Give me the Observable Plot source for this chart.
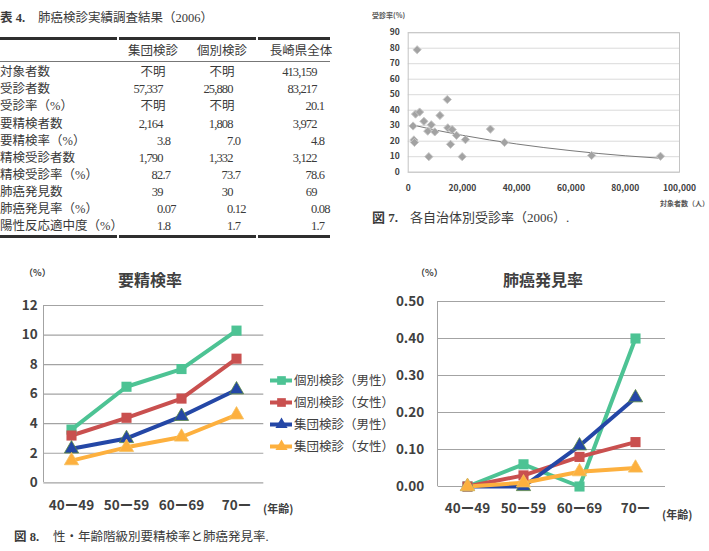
<!DOCTYPE html>
<html><head><meta charset="utf-8">
<script src="https://cdn.jsdelivr.net/npm/d3@7"></script>
<script src="https://cdn.jsdelivr.net/npm/@observablehq/plot@0.6"></script>
<style>
body{margin:0;background:#fff;}
#root{position:relative;width:709px;height:551px;overflow:hidden;background:#fff;}
.abs{position:absolute;}
</style></head>
<body><div id="root"></div>
<script>
// ---------- DATA ----------
// Table 4
const tableTitle = "肺癌検診実績調査結果（2006）";
const colHeaders = ["集団検診", "個別検診", "長崎県全体"];
const rowLabels = ["対象者数", "受診者数", "受診率（%）", "要精検者数", "要精検率（%）", "精検受診者数", "精検受診率（%）", "肺癌発見数", "肺癌発見率（%）", "陽性反応適中度（%）"];
const colGroup = ["不明", "57,337", "不明", "2,164", "3.8", "1,790", "82.7", "39", "0.07", "1.8"];
const colIndividual = ["不明", "25,880", "不明", "1,808", "7.0", "1,332", "73.7", "30", "0.12", "1.7"];
const colNagasaki = ["413,159", "83,217", "20.1", "3,972", "4.8", "3,122", "78.6", "69", "0.08", "1.7"];

// Fig 7 scatter
const targetPop = [3300, 2700, 4200, 11700, 14400, 5800, 8500, 1800, 7200, 9800, 14600, 16200, 17800, 21100, 15600, 2100, 2300, 7600, 19900, 30300, 35500, 67600, 93000];
const examRate  = [79, 37.5, 38.8, 36.6, 46.9, 32.8, 30.6, 29.8, 26.5, 26, 28.6, 27.5, 23.8, 21, 18, 20.8, 19.2, 10, 10, 27.8, 19.2, 10.8, 10.3];
const trendX = [1500, 10000, 20000, 30000, 40000, 50000, 60000, 70000, 80000, 93000];
const trendY = [30.5, 27.2, 23.8, 20.8, 18.2, 15.9, 13.9, 12.1, 10.6, 9.0];
const scatterYTicks = [0, 10, 20, 30, 40, 50, 60, 70, 80, 90];
const scatterXTicks = [0, 20000, 40000, 60000, 80000, 100000];

// Fig 8
const ages = ["40ー49", "50ー59", "60ー69", "70ー"];
const seriesNames = ["個別検診（男性）", "個別検診（女性）", "集団検診（男性）", "集団検診（女性）"];
const recallKobetsuM = [3.6, 6.5, 7.7, 10.3];
const recallKobetsuF = [3.2, 4.4, 5.7, 8.4];
const recallShudanM  = [2.3, 3.0, 4.5, 6.3];
const recallShudanF  = [1.5, 2.4, 3.1, 4.6];
const detectKobetsuM = [0.00, 0.06, 0.00, 0.40];
const detectKobetsuF = [0.00, 0.03, 0.08, 0.12];
const detectShudanM  = [0.00, 0.00, 0.11, 0.24];
const detectShudanF  = [0.00, 0.01, 0.04, 0.05];
const recallTicks = [0, 2, 4, 6, 8, 10, 12];
const detectTicks = [0, 0.1, 0.2, 0.3, 0.4, 0.5];

// ---------- STYLE ----------
const serifFam = "'Liberation Serif','Noto Sans CJK JP',serif";
const sansFam = "'Noto Sans CJK JP','Open Sans',sans-serif";
const seriesColors = ["#4dc394", "#c9504f", "#2447a6", "#fdb03e"];
const seriesSymbols = ["square", "square", "triangle", "triangle"];
const seriesR = [5.7, 5.7, 5.3, 5.3];

const root = document.getElementById("root");
function put(text, x, y, o = {}) {
  const d = document.createElement("div");
  d.className = "abs";
  d.textContent = text;
  const anchor = o.anchor || "start";
  const tx = anchor === "start" ? "0" : anchor === "middle" ? "-50%" : "-100%";
  Object.assign(d.style, {
    left: x + "px", top: y + "px", fontSize: (o.size || 12.5) + "px",
    fontWeight: o.weight || "normal", color: o.color || "#3a3a3a",
    fontFamily: o.family || serifFam, whiteSpace: "nowrap", lineHeight: "1",
    letterSpacing: o.ls || "normal",
    transform: `translate(${tx}, -50%)`
  });
  root.appendChild(d);
  return d;
}
function box(x, y, w, h, color) {
  const d = document.createElement("div");
  d.className = "abs";
  Object.assign(d.style, {left: x + "px", top: y + "px", width: w + "px", height: h + "px", background: color});
  root.appendChild(d);
}
function place(svg, x, y) {
  const w = document.createElement("div");
  w.className = "abs";
  w.style.left = x + "px"; w.style.top = y + "px";
  w.appendChild(svg);
  root.appendChild(w);
}

// ---------- TABLE 4 ----------
put("表 4.", 0, 18.3, {weight: "bold", size: 12.5});
put(tableTitle, 38, 18.3, {size: 12.5});
[[0, 117], [119, 256], [258, 330]].forEach(([a, b]) => { box(a, 36.5, b - a, 3, "#2e2e2e"); box(a, 234.5, b - a, 3, "#2e2e2e"); });
box(0, 60.5, 330, 1, "#777");
const headerCenters = [153, 222, 301];
colHeaders.forEach((h, i) => put(h, headerCenters[i], 50.7, {anchor: "middle", size: 12.5}));
const decX = [162.5, 232.5, 316.5];
const cols = [colGroup, colIndividual, colNagasaki];
rowLabels.forEach((lab, r) => {
  const y = 72.2 + r * 17.1;
  put(lab, 0, y, {size: 12.5});
  cols.forEach((col, c) => {
    const v = col[r];
    if (v === "不明") { put(v, headerCenters[c], y, {anchor: "middle", size: 12.5}); }
    else if (v.includes(".")) {
      const [ip, fp] = v.split(".");
      put(ip, decX[c], y, {anchor: "end", size: 12.5, ls: "-0.8px"});
      put("." + fp, decX[c], y, {size: 12.5, ls: "-0.8px"});
    } else {
      put(v, decX[c], y, {anchor: "end", size: 12.5, ls: "-0.9px"});
    }
  });
});

// ---------- FIG 7 SCATTER ----------
const scatterData = targetPop.map((x, i) => ({x, y: examRate[i]}));
const trendData = trendX.map((x, i) => ({x, y: trendY[i]}));
const sc = Plot.plot({
  width: 349, height: 180,
  marginLeft: 47.7, marginRight: 30, marginTop: 12.2, marginBottom: 28.3,
  style: {fontFamily: sansFam, fontSize: "8.5px", fontWeight: "bold", color: "#404040", background: "transparent", overflow: "visible"},
  x: {domain: [0, 100000], ticks: scatterXTicks, tickFormat: d3.format(","), tickSize: 0, tickPadding: 13, label: null},
  y: {domain: [0, 90], ticks: scatterYTicks, tickSize: 0, tickPadding: 8.5, label: null},
  marks: [
    Plot.ruleY(scatterYTicks, {stroke: "#dadada", strokeWidth: 1}),
    Plot.frame({stroke: "#c4c4c4"}),
    Plot.line(trendData, {x: "x", y: "y", stroke: "#7a7a7a", strokeWidth: 1}),
    Plot.dot(scatterData, {x: "x", y: "y", symbol: "diamond2", r: 3.7, fill: "#a2a2a2", stroke: "#c6c6c6", strokeWidth: 1})
  ]
});
place(sc, 360, 20);
put("受診率(%)", 372, 15, {size: 7, weight: "bold", family: sansFam, color: "#555"});
put("対象者数（人）", 660, 203, {size: 7, weight: "bold", family: sansFam, color: "#555"});
put("図 7.", 372, 216.7, {size: 13, weight: "bold"});
put("各自治体別受診率（2006）.", 410, 216.7, {size: 13});

// ---------- FIG 8 ----------
function lineChart(values, ticks, fmt, cfg) {
  const marks = [Plot.ruleY(ticks, {stroke: "#a3a3a3", strokeWidth: 1.2})];
  values.forEach((vals, i) => {
    const data = ages.map((a, j) => ({age: a, v: vals[j]}));
    marks.push(Plot.line(data, {x: "age", y: "v", stroke: seriesColors[i], strokeWidth: 4, strokeLinejoin: "round"}));
  });
  values.forEach((vals, i) => {
    const data = ages.map((a, j) => ({age: a, v: vals[j]}));
    marks.push(Plot.dot(data, {x: "age", y: "v", symbol: seriesSymbols[i], r: seriesR[i], fill: seriesColors[i], stroke: i >= 2 ? (i === 2 ? "#5d8a3c" : "#f5c060") : "none", strokeWidth: 0.8}));
  });
  return Plot.plot({
    width: cfg.width, height: cfg.height,
    marginLeft: cfg.ml, marginRight: cfg.mr, marginTop: cfg.mt, marginBottom: cfg.mb,
    style: {fontFamily: sansFam, fontSize: "13.5px", fontWeight: "bold", color: "#404040", background: "transparent", overflow: "visible"},
    x: {type: "point", domain: ages, padding: 0.5, tickSize: 0, tickPadding: cfg.xpad, label: null},
    y: {domain: [ticks[0], ticks[ticks.length - 1]], ticks, tickFormat: fmt, tickSize: 0, tickPadding: cfg.ypad, label: null},
    marks
  });
}
const c1 = {width: 270, height: 260, ml: 43.3, mr: 6.7, mt: 45, mb: 37.7, xpad: 18, ypad: 6};
place(lineChart([recallKobetsuM, recallKobetsuF, recallShudanM, recallShudanF], recallTicks, d3.format("d"), c1), 0, 260);
box(c1.ml - 0.6, 260 + c1.mt, 1.2, c1.height - c1.mt - c1.mb, "#a3a3a3");

const c2 = {width: 319, height: 260, ml: 47.7, mr: 44, mt: 41, mb: 34, xpad: 16.5, ypad: 14};
place(lineChart([detectKobetsuM, detectKobetsuF, detectShudanM, detectShudanF], detectTicks, d3.format(".2f"), c2), 390, 260);
box(390 + c2.ml - 0.6, 260 + c2.mt, 1.2, c2.height - c2.mt - c2.mb, "#a3a3a3");

// titles
put("（%）", 24, 272, {size: 9, weight: "bold", family: sansFam, color: "#404040"});
put("要精検率", 150, 279, {anchor: "middle", size: 16, weight: "bold", family: sansFam, color: "#404040"});
put("(年齢)", 263, 508, {size: 11, weight: "bold", family: sansFam, color: "#404040"});
put("（%）", 416, 272, {size: 9, weight: "bold", family: sansFam, color: "#404040"});
put("肺癌発見率", 543, 279, {anchor: "middle", size: 16, weight: "bold", family: sansFam, color: "#404040"});
put("(年齢)", 662, 514, {size: 11, weight: "bold", family: sansFam, color: "#404040"});

// legend
const legendData = seriesNames.map((name, i) => ({name, i}));
const legMarks = [];
legendData.forEach(d => {
  legMarks.push(Plot.ruleY([d], {y: "name", x1: 0, x2: 1, stroke: seriesColors[d.i], strokeWidth: 4}));
  legMarks.push(Plot.dot([d], {x: 0.5, y: "name", symbol: seriesSymbols[d.i], r: seriesR[d.i] - 0.8, fill: seriesColors[d.i]}));
});
legMarks.push(Plot.text(legendData, {x: 1, y: "name", text: "name", textAnchor: "start", dx: 1.5, fontSize: 12.5, fill: "#404040"}));
const leg = Plot.plot({
  width: 130, height: 95, marginLeft: 10, marginRight: 98, marginTop: 13.5, marginBottom: 13.2,
  style: {fontFamily: sansFam, fontSize: "12.5px", color: "#404040", background: "transparent", overflow: "visible"},
  x: {domain: [0, 1], axis: null},
  y: {type: "point", domain: seriesNames, padding: 0, axis: null},
  marks: legMarks
});
place(leg, 260, 365);

put("図 8.", 14, 536.7, {size: 12.5, weight: "bold"});
put("性・年齢階級別要精検率と肺癌発見率.", 53, 536.7, {size: 12.5});
</script>
</body></html>
